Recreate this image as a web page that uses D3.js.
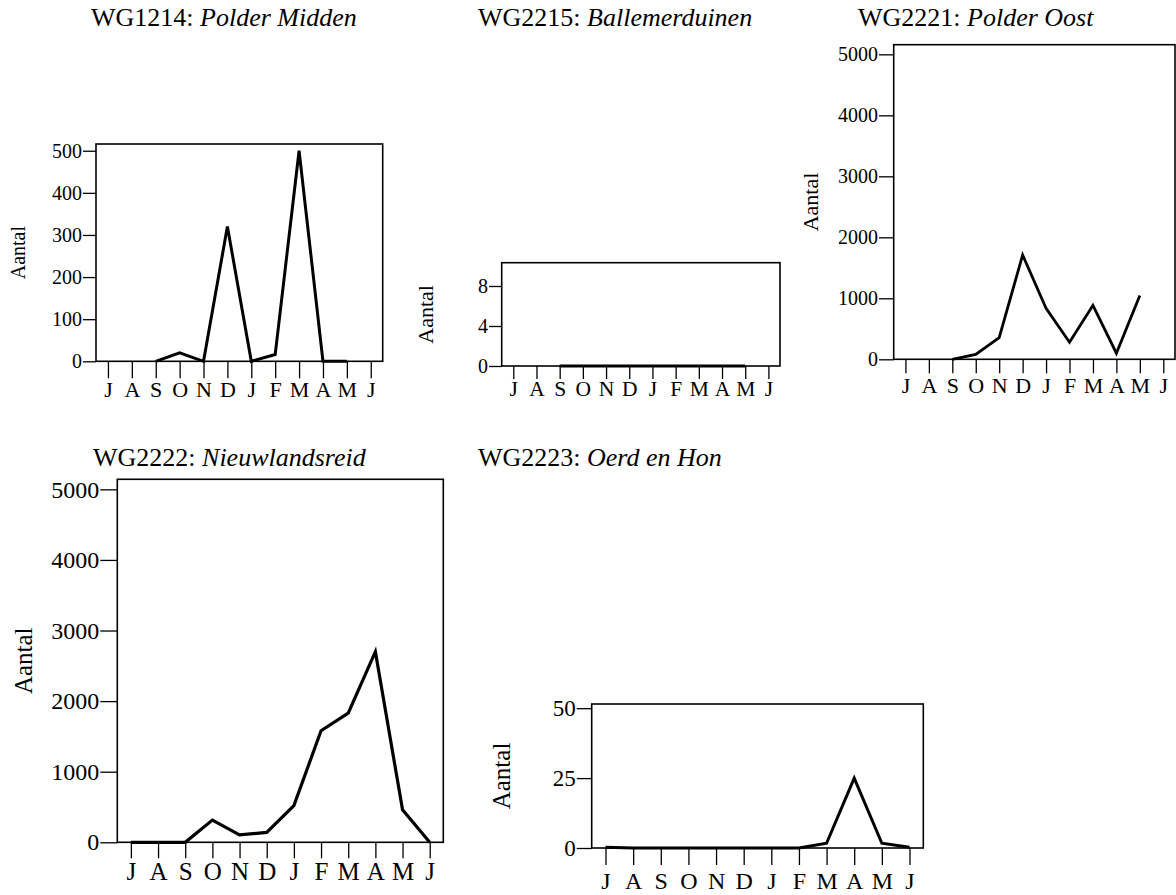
<!DOCTYPE html>
<html>
<head>
<meta charset="utf-8">
<script src="https://cdn.jsdelivr.net/npm/d3@7"></script>
<style>
  html, body { margin: 0; padding: 0; background: #fff; }
  svg { display: block; font-family: "Liberation Serif", "Times New Roman", serif; }
</style>
</head>
<body>
<svg id="chart" width="1176" height="895"></svg>
<script>
// Month labels, July through June
const months = ["J", "A", "S", "O", "N", "D", "J", "F", "M", "A", "M", "J"];

// Monthly counts per site (null = not counted)
const polderMidden   = [null, null, 0, 20, 0, 320, 0, 16, 500, 0, 0, null];
const ballemerduinen = [null, null, 0, 0, 0, 0, 0, 0, 0, 0, 0, null];
const polderOost     = [null, null, 0, 80, 355, 1710, 835, 280, 885, 100, 1045, null];
const nieuwlandsreid = [0, 0, 0, 315, 105, 140, 520, 1580, 1830, 2700, 460, 0];
const oerdEnHon      = [0.3, 0, 0, 0, 0, 0, 0, 0, 1.7, 25, 1.7, 0.3];

// Site codes and names
const codes = ["WG1214", "WG2215", "WG2221", "WG2222", "WG2223"];
const names = ["Polder Midden", "Ballemerduinen", "Polder Oost", "Nieuwlandsreid", "Oerd en Hon"];

// Y tick values per panel
const ticksMidden = [0, 100, 200, 300, 400, 500];
const ticksBallemer = [0, 4, 8];
const ticksOost = [0, 1000, 2000, 3000, 4000, 5000];
const ticksNieuwland = [0, 1000, 2000, 3000, 4000, 5000];
const ticksOerd = [0, 25, 50];

const series = [polderMidden, ballemerduinen, polderOost, nieuwlandsreid, oerdEnHon];
const yTickSets = [ticksMidden, ticksBallemer, ticksOost, ticksNieuwland, ticksOerd];
const yTops = [516, 10.33, 5158, 5142, 51.5];

// Panel geometry and styling
const layout = [
  { left: 96,    right: 382.7, top: 144,   bottom: 361.3, tickY: 13,   tickX: 17, padX: 3, font: 20, xFont: 22, aFont: 20, lineW: 3,   aX: 25,  tX: 91,  tY: 26 },
  { left: 501.7, right: 780,   top: 262.7, bottom: 366,   tickY: 12.7, tickX: 13, padX: 2, font: 20, xFont: 21.5, aFont: 22, lineW: 2.8, aX: 433, tX: 478, tY: 26 },
  { left: 893.7, right: 1175,  top: 44.7,  bottom: 359.3, tickY: 14.7, tickX: 14, padX: 4, font: 20, xFont: 22, aFont: 22, lineW: 2.8, aX: 818, tX: 858, tY: 26 },
  { left: 117.3, right: 443.3, top: 479.3, bottom: 842.3, tickY: 17,   tickX: 16, padX: 4, font: 24, xFont: 25, aFont: 25, lineW: 3.2, aX: 32,  tX: 93,  tY: 466 },
  { left: 591.7, right: 923.3, top: 704,   bottom: 848,   tickY: 15,   tickX: 17, padX: 7, font: 23, xFont: 24, aFont: 25, lineW: 3,   aX: 510, tX: 478, tY: 466 }
];

const svg = d3.select("#chart");
const serif = "Liberation Serif, Times New Roman, serif";

series.forEach((values, k) => {
  const L = layout[k];
  const g = svg.append("g");

  const x = d3.scalePoint()
    .domain(d3.range(months.length))
    .range([L.left, L.right])
    .padding(0.5);
  const y = d3.scaleLinear()
    .domain([0, yTops[k]])
    .range([L.bottom, L.top]);

  // Title: code upright, site name in italics
  const title = g.append("text")
    .attr("x", L.tX)
    .attr("y", L.tY)
    .attr("font-size", 26)
    .attr("fill", "#000");
  title.append("tspan").text(codes[k] + ": ");
  title.append("tspan").attr("font-style", "italic").text(names[k]);

  // Y axis
  const yAxis = g.append("g")
    .attr("transform", `translate(${L.left},0)`)
    .call(d3.axisLeft(y).tickValues(yTickSets[k]).tickSize(L.tickY).tickPadding(1).tickFormat(d3.format("d")))
    .attr("font-family", serif);
  yAxis.select(".domain").remove();
  yAxis.selectAll(".tick line").attr("stroke", "#000").attr("stroke-width", 1.3);
  yAxis.selectAll(".tick text")
    .attr("font-size", L.font)
    .attr("fill", "#000");

  // X axis with month initials
  const xAxis = g.append("g")
    .attr("transform", `translate(0,${L.bottom})`)
    .call(d3.axisBottom(x).tickSize(L.tickX).tickPadding(L.padX).tickFormat(i => months[i]))
    .attr("font-family", serif);
  xAxis.select(".domain").remove();
  xAxis.selectAll(".tick line").attr("stroke", "#000").attr("stroke-width", 1.3);
  xAxis.selectAll(".tick text")
    .attr("font-size", L.xFont)
    .attr("fill", "#000");

  // Plot frame
  g.append("rect")
    .attr("x", L.left)
    .attr("y", L.top)
    .attr("width", L.right - L.left)
    .attr("height", L.bottom - L.top)
    .attr("fill", "none")
    .attr("stroke", "#000")
    .attr("stroke-width", 1.6);

  // Count line
  const line = d3.line()
    .defined(d => d != null)
    .x((d, i) => x(i))
    .y(d => y(d));
  g.append("path")
    .datum(values)
    .attr("d", line)
    .attr("fill", "none")
    .attr("stroke", "#000")
    .attr("stroke-width", L.lineW)
    .attr("stroke-linejoin", "miter");

  // Y axis label
  g.append("text")
    .attr("transform", `translate(${L.aX},${(L.top + L.bottom) / 2}) rotate(-90)`)
    .attr("text-anchor", "middle")
    .attr("font-size", L.aFont)
    .attr("fill", "#000")
    .text("Aantal");
});
</script>
</body>
</html>
